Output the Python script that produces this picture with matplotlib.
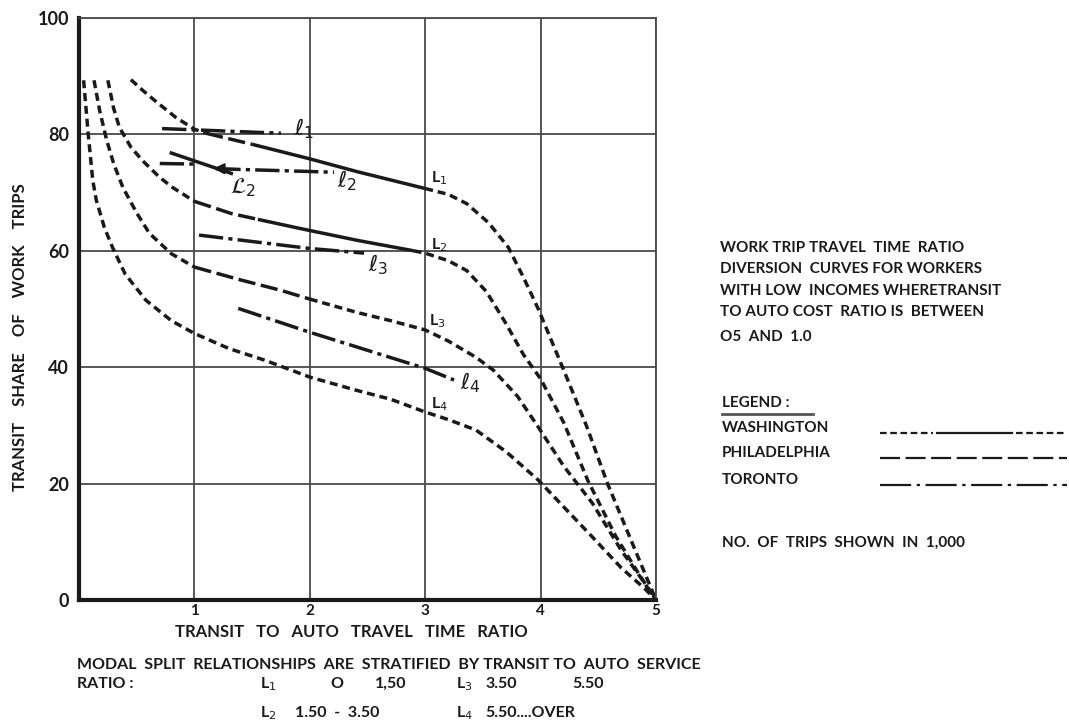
import matplotlib
matplotlib.use("Agg")
import matplotlib.pyplot as plt
from matplotlib.lines import Line2D

plt.rcParams['font.family'] = ['Lato', 'DejaVu Sans']
plt.rcParams['mathtext.fontset'] = 'dejavusans'

# ---------------- data ----------------
x_ticks = [1, 2, 3, 4, 5]
x_ticklabels = ['1', '2', '3', '4', '5']
y_ticks = [0, 20, 40, 60, 80, 100]
y_ticklabels = ['0', '20', '40', '60', '80', '100']

# Washington diversion curves (L1..L4)
L1_x = [0.45, 0.55, 0.67, 0.84, 1.0, 1.1, 1.5, 2.0, 2.41, 3.0, 3.2, 3.36, 3.55, 3.72, 3.85, 3.98, 4.19, 4.4, 4.58, 4.8, 5.0]
L1_y = [89.4, 87.6, 85.6, 82.9, 80.9, 80.2, 78.3, 75.8, 73.6, 70.7, 69.7, 68.1, 64.8, 60.6, 55.5, 50.0, 40.0, 29.8, 20.0, 9.5, 0.0]
L1_segments = [(0, 5, 'short'), (5, 6, 'long'), (6, 9, 'solid'), (9, 20, 'short')]

L2_x = [0.25, 0.3, 0.35, 0.45, 0.55, 0.7, 0.81, 1.0, 1.32, 1.55, 1.9, 2.41, 2.9, 3.0, 3.2, 3.36, 3.53, 3.7, 3.85, 4.0, 4.2, 4.41, 4.65, 4.85, 5.0]
L2_y = [89.3, 84.5, 81.2, 77.8, 75.5, 72.6, 70.9, 68.5, 66.4, 65.4, 63.9, 61.8, 60.0, 59.6, 58.3, 56.6, 53.0, 47.5, 42.2, 38.0, 30.5, 20.5, 11.0, 4.5, 0.0]
L2_segments = [(0, 7, 'short'), (7, 9, 'long'), (9, 12, 'solid'), (12, 24, 'short')]

L3_x = [0.13, 0.18, 0.24, 0.3, 0.38, 0.5, 0.61, 0.8, 1.0, 1.4, 1.75, 2.0, 2.41, 2.7, 3.0, 3.2, 3.44, 3.59, 3.8, 3.98, 4.2, 4.45, 4.7, 4.88, 5.0]
L3_y = [89.3, 84.0, 79.0, 75.0, 70.9, 66.5, 63.0, 59.5, 57.2, 55.0, 53.2, 51.7, 49.4, 48.0, 46.4, 44.5, 41.7, 39.5, 35.0, 29.7, 23.0, 16.6, 8.5, 3.5, 0.0]
L3_segments = [(0, 8, 'short'), (8, 11, 'long'), (11, 24, 'short')]

L4_x = [0.04, 0.08, 0.12, 0.15, 0.22, 0.29, 0.4, 0.58, 0.8, 1.0, 1.3, 1.61, 2.0, 2.41, 2.7, 3.0, 3.2, 3.44, 3.7, 3.98, 4.2, 4.45, 4.7, 4.9, 5.0]
L4_y = [89.3, 80.0, 72.0, 68.7, 64.0, 60.6, 56.0, 51.5, 48.0, 45.8, 43.2, 41.2, 38.3, 36.0, 34.5, 32.3, 31.0, 29.2, 25.5, 20.6, 16.0, 10.8, 5.5, 2.0, 0.0]
L4_segments = [(0, 24, 'short')]

# Toronto curves (l1..l4)
l1_x = [0.72, 1.75]
l1_y = [81.0, 80.2]
l2_x = [1.19, 2.21]
l2_y = [74.1, 73.5]
l3_x = [1.04, 2.0, 2.47]
l3_y = [62.7, 60.4, 59.6]
l4_x = [1.38, 2.0, 3.0, 3.25]
l4_y = [50.1, 46.0, 39.8, 37.8]

# Philadelphia fragment near script L2
P2_x = [0.8, 1.32]
P2_y = [76.8, 73.3]
t2_x = [0.7, 1.0]
t2_y = [75.0, 74.9]

curve_labels = [
    ('L$_1$', 3.05, 72.5), ('L$_2$', 3.05, 60.9),
    ('L$_3$', 3.03, 47.9), ('L$_4$', 3.05, 33.6),
]
script_labels = [
    (r'$\ell_1$', 1.86, 80.9), (r'$\ell_2$', 2.24, 72.0),
    (r'$\ell_3$', 2.5, 57.6), (r'$\ell_4$', 3.3, 37.4),
    (r'$\mathcal{L}_2$', 1.31, 70.9),
]

# ---------------- figure ----------------
W, H = 1069, 728
fig = plt.figure(figsize=(W / 100, H / 100), dpi=100)
ax = fig.add_axes([79 / W, 1 - 600 / H, (656 - 79) / W, (600 - 18) / H])

ink = '#1a1a1a'
lw = 2.5
styles = {
    'short': dict(linestyle=(0, (2.3, 1.4))),
    'long': dict(linestyle=(0, (5.0, 1.6))),
    'solid': dict(linestyle='-'),
}

for xs, ys, segs in [(L1_x, L1_y, L1_segments), (L2_x, L2_y, L2_segments),
                     (L3_x, L3_y, L3_segments), (L4_x, L4_y, L4_segments)]:
    for a, b, st in segs:
        ax.plot(xs[a:b + 1], ys[a:b + 1], color=ink, lw=lw,
                solid_capstyle='butt', dash_capstyle='butt', **styles[st])

dashdot = (0, (7, 1.5, 1.2, 1.5))
for xs, ys in [(l1_x, l1_y), (l2_x, l2_y), (l3_x, l3_y), (l4_x, l4_y), (t2_x, t2_y)]:
    ax.plot(xs, ys, color=ink, lw=lw, linestyle=dashdot, dash_capstyle='butt')
ax.plot(P2_x, P2_y, color=ink, lw=lw)
# arrow head at the left end of l2
ax.annotate('', xy=(l2_x[0] - 0.05, l2_y[0] + 0.05), xytext=(l2_x[0] + 0.2, l2_y[0] - 0.05),
            arrowprops=dict(arrowstyle='-|>', color=ink, lw=1.5, mutation_scale=16))

for txt, x, y in curve_labels:
    ax.text(x, y, txt, fontsize=11.5, color=ink, ha='left', va='center', fontweight='bold')
for txt, x, y in script_labels:
    ax.text(x, y, txt, fontsize=16, color=ink, ha='left', va='center')

ax.set_xlim(0, 5)
ax.set_ylim(0, 100)
ax.set_xticks(x_ticks)
ax.set_xticklabels(x_ticklabels, fontsize=11, color=ink, fontweight='bold')
ax.set_yticks(y_ticks)
ax.set_yticklabels(y_ticklabels, fontsize=13, color=ink, fontweight='bold')
ax.tick_params(length=0, pad=7)
ax.tick_params(axis='x', pad=3)
ax.grid(True, color='#4a4a4a', lw=1.3)
ax.set_axisbelow(True)
for s in ['left', 'bottom']:
    ax.spines[s].set_linewidth(3)
    ax.spines[s].set_color(ink)
for s in ['top', 'right']:
    ax.spines[s].set_linewidth(1.3)
    ax.spines[s].set_color('#4a4a4a')

# ---------------- annotations outside the plot ----------------
ov = fig.add_axes([0, 0, 1, 1], facecolor='none')
ov.set_xlim(0, W)
ov.set_ylim(H, 0)
ov.axis('off')

fs = 11.5
kw = dict(fontsize=fs, color=ink, fontweight='bold', va='center')
ov.text(20, 337, 'TRANSIT    SHARE    OF    WORK    TRIPS', rotation=90, ha='center',
        **{**kw, 'fontsize': 12})
ov.text(351, 632, 'TRANSIT   TO   AUTO   TRAVEL   TIME   RATIO', ha='center',
        **{**kw, 'fontsize': 12})
ov.text(77, 665, 'MODAL  SPLIT  RELATIONSHIPS  ARE  STRATIFIED  BY TRANSIT TO  AUTO  SERVICE',
        ha='left', **kw)
row1 = [('RATIO :', 77), ('L$_1$', 260), ('O', 330), ('1,50', 375),
        ('L$_3$', 456), ('3.50', 485), ('5.50', 572)]
row2 = [('L$_2$', 260), ('1.50  -  3.50', 295), ('L$_4$', 456), ('5.50....OVER', 485)]
for t, x in row1:
    ov.text(x, 684, t, ha='left', **kw)
for t, x in row2:
    ov.text(x, 713, t, ha='left', **kw)

note = ['WORK TRIP TRAVEL  TIME  RATIO',
        'DIVERSION  CURVES FOR WORKERS',
        'WITH LOW  INCOMES WHERETRANSIT',
        'TO AUTO COST  RATIO IS  BETWEEN']
for i, t in enumerate(note):
    ov.text(720, 248 + i * 21.3, t, ha='left', **{**kw, 'fontsize': 11})
ov.text(720, 337, 'O5  AND  1.0', ha='left', **{**kw, 'fontsize': 11})

ov.text(722, 403, 'LEGEND :', ha='left', **{**kw, 'fontsize': 11})
ov.add_line(Line2D([722, 813], [414, 414], color='#555555', lw=2))
legend_names = ['WASHINGTON', 'PHILADELPHIA', 'TORONTO']
legend_y = [428, 453, 480]
for name, y in zip(legend_names, legend_y):
    ov.text(722, y, name, ha='left', **{**kw, 'fontsize': 11})
lw_leg = 1.6
y0 = legend_y[0] + 5
ov.add_line(Line2D([880, 933], [y0, y0], color=ink, lw=lw_leg, linestyle=(0, (3, 1.6))))
ov.add_line(Line2D([937, 1012], [y0, y0], color=ink, lw=lw_leg))
ov.add_line(Line2D([1016, 1067], [y0, y0], color=ink, lw=lw_leg, linestyle=(0, (3, 1.6))))
y1 = legend_y[1] + 5
ov.add_line(Line2D([880, 1067], [y1, y1], color=ink, lw=lw_leg, linestyle=(0, (9, 2.5))))
y2 = legend_y[2] + 5
ov.add_line(Line2D([880, 1067], [y2, y2], color=ink, lw=lw_leg, linestyle=(0, (14, 2.5, 1.5, 2.5))))

ov.text(722, 543, 'NO.  OF  TRIPS  SHOWN  IN  1,000', ha='left', **{**kw, 'fontsize': 11})

fig.savefig('out.png', dpi=100)
